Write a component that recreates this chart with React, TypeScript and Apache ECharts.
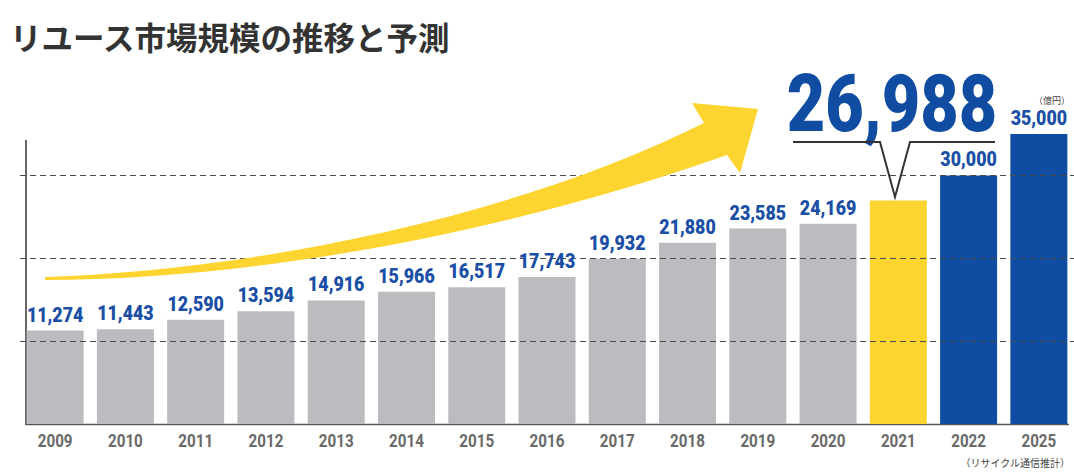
import React, { useEffect, useRef } from "react";
import * as echarts from "echarts";

const titleText = "リユース市場規模の推移と予測";
const categories = ["2009", "2010", "2011", "2012", "2013", "2014", "2015", "2016", "2017", "2018", "2019", "2020", "2021", "2022", "2025"];
const values = [11274, 11443, 12590, 13594, 14916, 15966, 16517, 17743, 19932, 21880, 23585, 24169, 26988, 30000, 35000];
const highlightYear = "2021";
const forecastYears = ["2022", "2025"];
const gridLineValues = [10000, 20000, 30000];
const unitText = "（億円）";
const sourceText = "（リサイクル通信推計）";

const GRAY = "#bcbcc0";
const YELLOW = "#fed530";
const BLUE = "#0f4ca2";
const LABEL_BLUE = "#1a4fa5";
const NUM_FONT = "Roboto, 'DejaVu Sans', sans-serif";
const JP = "'Noto Sans CJK JP', sans-serif";

const ARROW_D =
  "M45 277 C260 270 520 215 704 123 L692 103 L758 109 L740 173 L727 155 C530 225 270 280 45 280 Z";

let registered = false;

export default function App() {
  const ref = useRef<HTMLDivElement>(null);
  useEffect(() => {
    if (!ref.current) return;
    if (!registered) {
      echarts.graphic.registerShape("trendArrow", echarts.graphic.extendPath(ARROW_D, {}) as any);
      registered = true;
    }
    const chart = echarts.init(ref.current, undefined, { renderer: "svg" });
    const fmt = (v: number) => v.toLocaleString("en-US");
    const hiIdx = categories.indexOf(highlightYear);
    const data = values.map((v, i) => {
      const c = categories[i];
      const color = c === highlightYear ? YELLOW : forecastYears.includes(c) ? BLUE : GRAY;
      return { value: v, itemStyle: { color } };
    });
    chart.setOption({
      animation: false,
      grid: { left: 20, right: 0, top: 134, bottom: 49 },
      xAxis: {
        type: "category",
        data: categories,
        axisLine: { show: false },
        axisTick: { show: false },
        axisLabel: { show: false },
      },
      yAxis: {
        type: "value",
        min: 0,
        max: 35000,
        interval: 10000,
        show: false,
        splitLine: { show: false },
      },
      series: [
        {
          type: "bar",
          data,
          barWidth: 57,
          markLine: {
            silent: true,
            symbol: "none",
            label: { show: false },
            lineStyle: { color: "#4a4a4a", width: 1, type: [6, 4] },
            data: gridLineValues.map((v) => ({ yAxis: v })),
          },
        },
        {
          type: "custom",
          silent: true,
          z: 5,
          data: values.map((v, i) => [i, v]),
          renderItem: (params: any, api: any) => {
            const i = api.value(0);
            const v = api.value(1);
            const top = api.coord([i, v]);
            const base = api.coord([i, 0]);
            const children: any[] = [
              {
                type: "text",
                x: base[0],
                y: base[1] + 16,
                scaleX: 0.8,
                style: {
                  text: categories[i],
                  font: `bold 19px ${NUM_FONT}`,
                  fill: "#6a6a6a",
                  align: "center",
                  verticalAlign: "middle",
                },
              },
            ];
            if (categories[i] !== highlightYear) {
              children.push({
                type: "text",
                x: top[0],
                y: top[1] - 16,
                scaleX: 0.85,
                style: {
                  text: fmt(v),
                  font: `900 21px ${NUM_FONT}`,
                  fill: LABEL_BLUE,
                  align: "center",
                  verticalAlign: "middle",
                },
              });
            }
            return { type: "group", children };
          },
        },
      ],
      graphic: [
        {
          type: "text",
          left: 10,
          top: 20,
          style: { text: titleText, font: `bold 31.5px ${JP}`, fill: "#333" },
        },
        {
          type: "line",
          shape: { x1: 26, y1: 140, x2: 26, y2: 425 },
          style: { stroke: "#333", lineWidth: 1.5 },
        },
        {
          type: "line",
          shape: { x1: 26, y1: 424.5, x2: 1069, y2: 424.5 },
          style: { stroke: "#555", lineWidth: 1.5 },
        },
        {
          type: "trendArrow",
          x: 0,
          y: 0,
          z: 100,
          style: { fill: YELLOW },
        },
        {
          type: "text",
          x: 892,
          y: 104,
          z: 100,
          scaleX: 0.83,
          style: {
            text: fmt(values[hiIdx]),
            font: `900 80px ${NUM_FONT}`,
            fill: BLUE,
            textAlign: "center",
            textVerticalAlign: "middle",
          },
        },
        {
          type: "polyline",
          z: 100,
          shape: { points: [[793, 142], [880, 142], [895, 197], [910, 142], [995, 142]] },
          style: { stroke: "#333", lineWidth: 2, fill: "none" },
        },
        {
          type: "text",
          x: 1070,
          y: 100,
          style: { text: unitText, font: `9px ${JP}`, fill: "#444", textAlign: "right", textVerticalAlign: "middle" },
        },
        {
          type: "text",
          x: 1070,
          y: 462,
          style: { text: sourceText, font: `10px ${JP}`, fill: "#444", textAlign: "right", textVerticalAlign: "middle" },
        },
      ],
    });
    return () => chart.dispose();
  }, []);
  return (
    <div
      ref={ref}
      style={{ position: "fixed", left: 0, top: 0, width: 1074, height: 473, background: "#fff" }}
    />
  );
}
